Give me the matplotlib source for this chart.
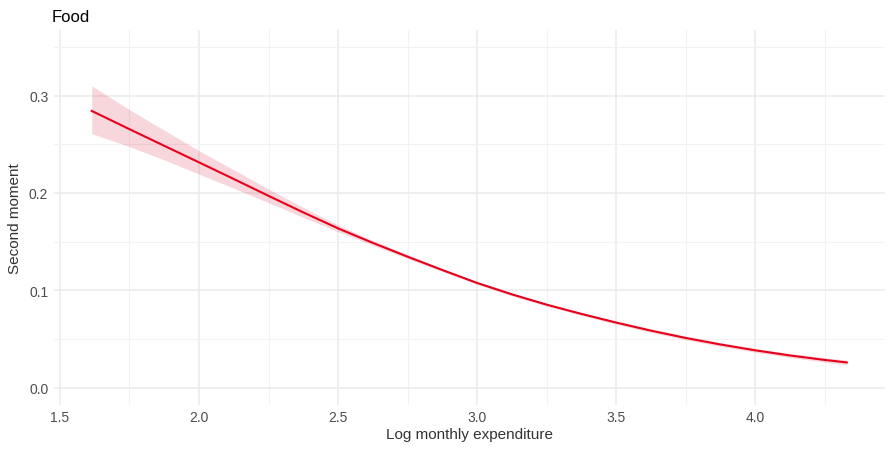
import matplotlib
matplotlib.use("Agg")
import matplotlib.pyplot as plt
from matplotlib.ticker import MultipleLocator, FormatStrFormatter

plt.rcParams['font.family'] = ['Liberation Sans', 'DejaVu Sans']

# Data
x = [1.614, 1.75, 1.875, 2.0, 2.125, 2.25, 2.375, 2.5, 2.625, 2.75, 2.875, 3.0,
     3.125, 3.25, 3.375, 3.5, 3.625, 3.75, 3.875, 4.0, 4.125, 4.25, 4.33]
y = [0.2843, 0.2655, 0.2484, 0.2314, 0.2143, 0.1970, 0.1800, 0.1636, 0.1487, 0.1345, 0.1208, 0.1075,
     0.0958, 0.0852, 0.0757, 0.0668, 0.0585, 0.0510, 0.0443, 0.0383, 0.0330, 0.0284, 0.0258]
lower = [0.2610, 0.2475, 0.2339, 0.2194, 0.2048, 0.1900, 0.1750, 0.1601, 0.1462, 0.1325, 0.1193, 0.1060,
         0.0943, 0.0837, 0.0741, 0.0651, 0.0567, 0.0491, 0.0423, 0.0363, 0.0309, 0.0261, 0.0233]
upper = [0.3100, 0.2855, 0.2644, 0.2434, 0.2238, 0.2040, 0.1850, 0.1671, 0.1512, 0.1365, 0.1223, 0.1090,
         0.0973, 0.0867, 0.0773, 0.0685, 0.0603, 0.0529, 0.0463, 0.0403, 0.0351, 0.0307, 0.0283]

title = "Food"
xlabel = "Log monthly expenditure"
ylabel = "Second moment"

fig = plt.figure(figsize=(8.92, 4.52), dpi=100)
ax = fig.add_axes([0.0604, 0.1027, 0.9917 - 0.0604, 0.9316 - 0.1027])

ax.fill_between(x, lower, upper, color="#D61431", alpha=0.17, linewidth=0)
ax.plot(x, y, color="#E6001C", linewidth=1.5)

ax.set_xlim(1.478, 4.466)
ax.set_ylim(-0.0175, 0.3675)
ax.xaxis.set_major_locator(MultipleLocator(0.5))
ax.xaxis.set_minor_locator(MultipleLocator(0.25))
ax.yaxis.set_major_locator(MultipleLocator(0.1))
ax.yaxis.set_minor_locator(MultipleLocator(0.05))
ax.xaxis.set_major_formatter(FormatStrFormatter('%.1f'))
ax.yaxis.set_major_formatter(FormatStrFormatter('%.1f'))

ax.grid(which='major', color='#EBEBEB', linewidth=1.1)
ax.grid(which='minor', color='#F2F2F2', linewidth=0.8)
ax.set_axisbelow(True)
for s in ax.spines.values():
    s.set_visible(False)
ax.tick_params(which='both', length=0)
ax.tick_params(axis='both', labelsize=10, labelcolor='#4D4D4D', pad=4)

ax.set_xlabel(xlabel, fontsize=11, color='#333333', labelpad=2)
ax.set_ylabel(ylabel, fontsize=11, color='#333333', labelpad=5)
fig.text(52 / 892, 1 - 17 / 452, title, fontsize=12, color='black', va='center', ha='left')

fig.savefig("out.png", dpi=100, facecolor='white')
